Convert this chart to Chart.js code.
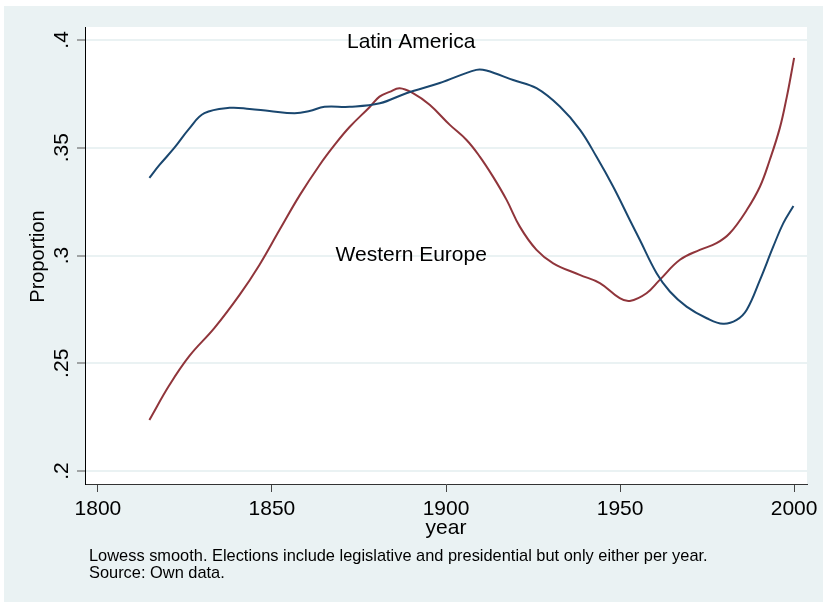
<!DOCTYPE html>
<html>
<head>
<meta charset="utf-8">
<script src="https://cdn.jsdelivr.net/npm/chart.js@4.4.1/dist/chart.umd.min.js"></script>
<style>
  html, body { margin: 0; padding: 0; background: #ffffff; }
  #wrap { width: 823px; height: 602px; position: relative; }
</style>
</head>
<body>
<div id="wrap"><canvas id="lowessChart" width="823" height="602"></canvas></div>
<script>
// years
const latinYears = [1814.8, 1817.7, 1822.0, 1826.3, 1830.6, 1837.8, 1843.6, 1849.3, 1856.5, 1860.8,
    1865.1, 1872.3, 1881.0, 1888.6, 1898.2, 1908.7, 1911.6, 1919.3, 1926.0, 1932.7,
    1938.5, 1943.2, 1948.0, 1952.8, 1955.7, 1960.5, 1964.3, 1969.1, 1974.9, 1979.6,
    1983.5, 1986.4, 1990.2, 1994.0, 1996.9, 1999.8];
const latinValues = [0.336, 0.342, 0.350, 0.359, 0.366, 0.3685, 0.368, 0.367, 0.366, 0.367,
    0.369, 0.369, 0.3706, 0.3753, 0.380, 0.3861, 0.3858, 0.3814, 0.3776, 0.3691,
    0.3583, 0.3459, 0.3320, 0.3165, 0.3072, 0.2918, 0.2833, 0.2763, 0.2709, 0.2683,
    0.2701, 0.2748, 0.2887, 0.3041, 0.3150, 0.3230];

const europeYears = [1814.8, 1820.6, 1826.3, 1833.5, 1840.7, 1846.4, 1852.2, 1858.0, 1863.7, 1868.0,
    1872.3, 1878.1, 1880.9, 1883.8, 1886.7, 1890.5, 1895.3, 1901.1, 1905.9, 1909.7,
    1913.5, 1917.4, 1921.2, 1926.0, 1930.8, 1938.4, 1944.2, 1949.9, 1952.8, 1957.6,
    1961.4, 1967.2, 1972.9, 1977.7, 1981.5, 1986.4, 1990.2, 1993.0, 1995.9, 1997.9,
    1999.0, 2000.0];
const europeValues = [0.2237, 0.240, 0.2534, 0.2664, 0.2817, 0.2956, 0.3119, 0.328, 0.342, 0.3513,
    0.3596, 0.3689, 0.3737, 0.3759, 0.3776, 0.3753, 0.3699, 0.3606, 0.3536, 0.3459,
    0.3366, 0.3258, 0.3134, 0.3026, 0.2964, 0.291, 0.2872, 0.2802, 0.2789, 0.2825,
    0.2887, 0.298, 0.3026, 0.3057, 0.3103, 0.3211, 0.3320, 0.3443, 0.3592, 0.3736,
    0.3828, 0.3917];

const yTicks = [0.2, 0.25, 0.3, 0.35, 0.4];
const yTickLabels = ['.2', '.25', '.3', '.35', '.4'];
const xTicks = [1800, 1850, 1900, 1950, 2000];

// text labels placed on the plot (x, y in data units)
const seriesNames = ['Latin America', 'Western Europe'];
const labelYears = [1890, 1890];
const labelValues = [0.399, 0.3];

const xTitle = 'year';
const yTitle = 'Proportion';
const noteLines = [
    'Lowess smooth. Elections include legislative and presidential but only either per year.',
    'Source: Own data.'
];

const BG = '#eaf2f3';
const FONT = '"Liberation Sans", Arial, Helvetica, sans-serif';

function toPoints(xs, ys) {
    return xs.map((x, i) => ({ x: x, y: ys[i] }));
}

// backgrounds, rotated y labels, titles, in-plot labels and notes
const stataLook = {
    id: 'stataLook',
    beforeDraw(chart) {
        const ctx = chart.ctx;
        const a = chart.chartArea;
        ctx.save();
        ctx.fillStyle = '#ffffff';
        ctx.fillRect(0, 0, chart.width, chart.height);
        ctx.fillStyle = BG;
        ctx.fillRect(4, 6, chart.width - 4, chart.height - 6);
        ctx.fillStyle = '#ffffff';
        ctx.fillRect(a.left, a.top, a.right - a.left, a.bottom - a.top);
        ctx.restore();
    },
    afterDraw(chart) {
        const ctx = chart.ctx;
        const a = chart.chartArea;
        const xs = chart.scales.x;
        const ys = chart.scales.y;
        ctx.save();
        ctx.fillStyle = '#000000';

        // y tick labels, turned like Stata does
        ctx.font = '21px ' + FONT;
        ctx.textAlign = 'center';
        ctx.textBaseline = 'middle';
        yTicks.forEach((v, i) => {
            const py = ys.getPixelForValue(v);
            ctx.save();
            ctx.translate(62, py);
            ctx.rotate(-Math.PI / 2);
            ctx.fillText(yTickLabels[i], 0, 0);
            ctx.restore();
        });

        // axis titles
        ctx.save();
        ctx.font = '20px ' + FONT;
        ctx.translate(38, (a.top + a.bottom) / 2 + 1);
        ctx.rotate(-Math.PI / 2);
        ctx.fillText(yTitle, 0, 0);
        ctx.restore();

        ctx.font = '21px ' + FONT;
        ctx.fillText(xTitle, (a.left + a.right) / 2, 528);

        // series labels
        seriesNames.forEach((name, i) => {
            ctx.fillText(name, xs.getPixelForValue(labelYears[i]), ys.getPixelForValue(labelValues[i]));
        });

        // notes
        ctx.font = '16.4px ' + FONT;
        ctx.textAlign = 'left';
        ctx.textBaseline = 'alphabetic';
        noteLines.forEach((t, i) => {
            ctx.fillText(t, 89, 561 + i * 16.7);
        });
        ctx.restore();
    }
};

new Chart(document.getElementById('lowessChart'), {
    type: 'line',
    data: {
        datasets: [
            {
                label: seriesNames[0],
                data: toPoints(latinYears, latinValues),
                borderColor: '#1a476f',
                borderWidth: 2,
                pointRadius: 0,
                fill: false,
                tension: 0.4
            },
            {
                label: seriesNames[1],
                data: toPoints(europeYears, europeValues),
                borderColor: '#90353b',
                borderWidth: 2,
                pointRadius: 0,
                fill: false,
                tension: 0.4
            }
        ]
    },
    options: {
        responsive: false,
        animation: false,
        layout: { padding: { left: 0, top: 27, right: 16, bottom: 0 } },
        plugins: {
            legend: { display: false },
            tooltip: { enabled: false }
        },
        scales: {
            x: {
                type: 'linear',
                min: 1796.3,
                max: 2003.7,
                afterBuildTicks: (scale) => { scale.ticks = xTicks.map(v => ({ value: v })); },
                afterFit: (scale) => { scale.height = 118; },
                grid: {
                    display: true,
                    drawOnChartArea: false,
                    drawTicks: true,
                    tickLength: 8,
                    tickColor: '#444444',
                    tickWidth: 1
                },
                border: { display: true, color: '#333333', width: 1 },
                ticks: {
                    color: '#000000',
                    font: { family: FONT, size: 21 },
                    padding: 5,
                    maxRotation: 0,
                    callback: (v) => String(v)
                },
                title: { display: false }
            },
            y: {
                type: 'linear',
                min: 0.194,
                max: 0.406,
                afterBuildTicks: (scale) => { scale.ticks = yTicks.map(v => ({ value: v })); },
                afterFit: (scale) => { scale.width = 85; },
                grid: {
                    color: BG,
                    lineWidth: 2,
                    drawTicks: true,
                    tickLength: 8,
                    tickColor: '#555555',
                    tickWidth: 1
                },
                border: { display: true, color: '#000000', width: 1 },
                ticks: { display: false },
                title: { display: false }
            }
        }
    },
    plugins: [stataLook]
});
</script>
</body>
</html>
